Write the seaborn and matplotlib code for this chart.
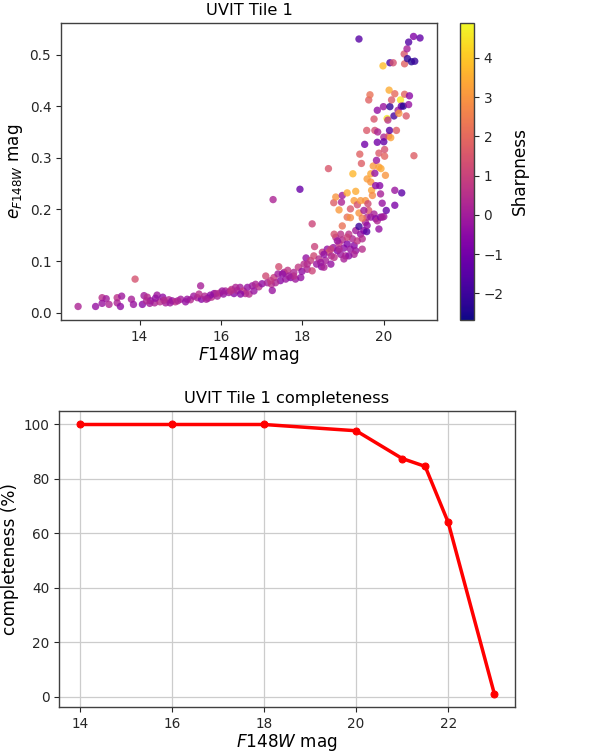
import numpy as np
import pandas as pd
import matplotlib
matplotlib.use("Agg")
import matplotlib.pyplot as plt
import seaborn as sns

# ---------------- data: photometric error vs magnitude (main sequence band) -------------
band_mag = [12.49, 12.92, 13.08, 13.18, 13.08, 13.25, 13.45, 13.56, 13.45, 13.53,
            13.80, 13.85, 13.89, 14.07, 14.11, 14.19, 14.27, 14.37, 14.43, 14.50,
            14.57, 14.64, 14.72, 14.80, 14.88, 15.01, 15.13, 15.25, 15.33, 15.42,
            15.50, 15.52, 15.60, 15.68, 15.77, 15.83, 15.91, 15.97, 16.06, 16.11,
            16.19, 16.26, 16.32, 16.40, 16.47, 16.55, 16.65, 16.69, 16.77, 16.85,
            16.93, 17.01, 17.10, 17.14, 17.24, 17.26, 17.30, 17.40, 17.42, 17.46,
            17.55, 17.59, 17.64, 17.71, 17.79, 17.83, 17.90, 17.99, 18.04, 18.09,
            18.12, 18.20, 18.24, 18.28, 18.30, 18.24, 18.35, 18.41, 18.47, 18.49,
            18.57, 18.61, 18.65, 18.71, 18.76, 18.82, 18.86, 18.90, 18.94, 18.98,
            19.02, 19.06, 19.10, 19.14, 19.18, 19.23, 19.27, 19.31, 19.35, 19.39,
            19.43, 19.47, 19.51, 19.55, 19.58, 19.59, 19.63,
            19.59, 19.68, 19.76, 19.80, 19.84, 19.88, 19.92, 20.00, 19.47, 19.31,
            19.27, 19.14, 19.02, 18.78, 18.70, 18.53, 18.45, 18.12, 17.96, 17.79,
            17.67, 17.51, 17.34, 17.22, 16.81, 16.60, 16.48, 16.36, 16.24, 16.03,
            15.87, 15.74, 15.64, 15.46, 15.17, 14.94, 14.75, 14.60, 14.39, 14.25,
            14.17, 19.10, 18.94, 18.86, 18.78, 18.90, 18.70, 18.53]
band_err = [0.012, 0.012, 0.029, 0.027, 0.018, 0.016, 0.029, 0.032, 0.019, 0.012,
            0.026, 0.016, 0.065, 0.016, 0.033, 0.030, 0.023, 0.019, 0.034, 0.021,
            0.030, 0.019, 0.025, 0.023, 0.021, 0.026, 0.021, 0.025, 0.032, 0.029,
            0.052, 0.026, 0.032, 0.028, 0.030, 0.037, 0.032, 0.038, 0.036, 0.042,
            0.039, 0.045, 0.037, 0.043, 0.049, 0.042, 0.049, 0.036, 0.052, 0.055,
            0.050, 0.056, 0.071, 0.058, 0.055, 0.043, 0.068, 0.075, 0.089, 0.062,
            0.078, 0.065, 0.082, 0.068, 0.078, 0.065, 0.088, 0.080, 0.094, 0.106,
            0.084, 0.101, 0.081, 0.110, 0.128, 0.172, 0.094, 0.104, 0.089, 0.117,
            0.101, 0.123, 0.117, 0.110, 0.126, 0.146, 0.120, 0.134, 0.113, 0.141,
            0.125, 0.110, 0.133, 0.152, 0.123, 0.143, 0.130, 0.159, 0.139, 0.167,
            0.152, 0.143, 0.159, 0.175, 0.157, 0.185, 0.198,
            0.169, 0.185, 0.191, 0.182, 0.178, 0.162, 0.185, 0.186, 0.123, 0.120,
            0.113, 0.110, 0.104, 0.107, 0.094, 0.088, 0.097, 0.094, 0.068, 0.071,
            0.071, 0.075, 0.058, 0.062, 0.042, 0.037, 0.036, 0.049, 0.042, 0.042,
            0.037, 0.034, 0.026, 0.036, 0.026, 0.023, 0.019, 0.024, 0.028, 0.018,
            0.023, 0.146, 0.152, 0.139, 0.152, 0.123, 0.123, 0.113]
band_sharp = [0.2, -0.3, 0.5, 0.0, -0.2, 0.3, 0.6, -0.1, 0.2, -0.4,
              0.1, -0.2, 1.4, -0.5, 0.0, 0.4, -0.3, 0.2, -0.1, 0.5,
              -0.4, 0.1, 0.3, -0.2, 0.6, 0.0, -0.3, 0.4, -0.1, 0.2,
              0.1, -0.5, 0.3, -0.2, 0.5, -0.4, 0.1, 0.7, -0.3, 0.2,
              -0.1, 0.6, -0.5, 0.3, 0.0, 0.8, -0.3, 0.4, -0.1, 0.2,
              0.5, -0.4, 1.2, 0.1, 0.6, -0.2, 0.9, 0.0, 1.3, -0.5,
              0.4, -0.2, 0.7, -0.6, 0.3, -0.1, 0.8, -0.4, 0.5, -0.3,
              0.2, 0.9, 1.1, 1.2, 1.0, 1.1, -0.2, 0.4, -0.5, 0.7,
              0.1, -0.3, 1.5, 0.3, -0.2, 0.5, -0.6, 0.8, -0.1, 0.4,
              -0.4, 0.2, -0.7, 0.6, -0.2, 0.3, -0.5, 0.0, 0.7, -2.0,
              -0.3, 0.4, -0.6, 0.2, -1.5, 0.5, 1.6,
              -0.4, -0.2, 0.1, -0.5, 0.3, -0.3, -0.6, -0.1, 0.5, -0.2,
              0.2, -0.4, 0.1, 0.6, -0.3, 0.2, -0.1, 0.4, -0.3, 0.5,
              0.0, -0.4, 0.3, 0.8, -0.2, 0.4, -0.5, 0.2, 0.6, -0.1,
              0.3, -0.4, 0.1, 0.5, -0.2, 0.2, -0.1, 0.4, -0.3, 0.0,
              0.3, 1.0, 0.6, -0.2, 1.4, 0.3, 0.9, -0.4]

# faint / scattered sources
faint_mag = [18.64, 18.77, 18.82, 18.90, 18.96, 18.98, 18.98, 19.10, 19.10, 19.18,
             19.18, 19.24, 19.27, 19.31, 19.35, 19.39, 19.41, 19.43, 19.45, 19.47,
             19.51, 19.53, 19.55, 19.58, 19.59, 19.61, 19.63, 19.66, 19.68, 19.68,
             19.70, 19.72, 19.74, 19.76, 19.78, 19.78, 19.80, 19.82, 19.84, 19.84,
             19.85, 19.88, 19.88, 19.90, 19.92, 19.93, 19.96, 19.96, 19.98, 19.99,
             20.00, 20.00, 20.02, 20.02, 20.04, 20.06, 20.08, 20.10, 20.12, 20.13,
             20.14, 20.15, 20.15, 20.17, 20.19, 20.23, 20.25, 20.27, 20.27, 20.27,
             20.31, 20.35, 20.37, 20.41, 20.43, 20.44, 20.48, 20.50, 20.51, 20.51,
             20.55, 20.57, 20.58, 20.61, 20.61, 20.63, 20.68, 20.73, 20.74, 20.76,
             20.89, 19.39, 17.94, 17.28]
faint_err = [0.279, 0.213, 0.224, 0.199, 0.214, 0.227, 0.168, 0.232, 0.185, 0.184,
             0.201, 0.269, 0.217, 0.235, 0.209, 0.193, 0.307, 0.217, 0.289, 0.183,
             0.198, 0.326, 0.217, 0.353, 0.259, 0.211, 0.412, 0.422, 0.269, 0.253,
             0.237, 0.227, 0.284, 0.375, 0.353, 0.270, 0.246, 0.295, 0.392, 0.330,
             0.350, 0.309, 0.282, 0.246, 0.230, 0.279, 0.212, 0.185, 0.478, 0.399,
             0.340, 0.331, 0.316, 0.303, 0.266, 0.198, 0.376, 0.373, 0.342, 0.431,
             0.353, 0.484, 0.399, 0.339, 0.412, 0.484, 0.381, 0.424, 0.237, 0.208,
             0.353, 0.392, 0.386, 0.412, 0.400, 0.232, 0.400, 0.501, 0.482, 0.423,
             0.381, 0.511, 0.492, 0.524, 0.403, 0.420, 0.486, 0.535, 0.304, 0.487,
             0.532, 0.530, 0.239, 0.219]
faint_sharp = [1.5, 1.7, 3.0, 3.1, 0.2, -0.1, 2.2, 3.5, 2.2, 2.8,
               1.6, 3.7, 3.2, 3.5, 1.4, 3.0, 1.8, 3.1, 1.7, 2.4,
               0.0, -1.0, 3.0, 1.6, 3.2, 1.2, 1.8, 2.2, 3.4, 3.0,
               3.3, 2.8, 3.1, 1.5, 1.3, -0.3, -0.5, -0.2, -0.4, -1.0,
               0.2, 1.6, 3.2, -0.6, 0.1, 3.4, -0.3, 0.0, 3.8, -0.2,
               0.3, -1.3, 1.4, 1.9, 3.0, -1.2, 4.7, 0.6, 1.5, 3.5,
               -1.5, -1.8, -2.2, 3.3, 1.6, 1.4, -1.8, 2.0, -0.2, -0.8,
               1.7, 0.0, 3.0, 4.6, -1.2, -1.4, -2.3, 1.5, 1.8, 1.9,
               1.6, 0.1, -2.2, -1.6, -0.3, -0.5, -2.4, -0.7, 1.7, -2.1,
               -1.3, -1.5, -1.2, 0.2]

# completeness curve
comp_mag = [14, 16, 18, 20, 21, 21.5, 22, 23]
comp_pct = [100, 100, 100, 97.7, 87.5, 84.6, 64.0, 1.1]

SHARP_MIN, SHARP_MAX = -2.68, 4.89

# ---------------- figure ----------------
plt.rcParams.update({
    "font.family": ["DejaVu Sans"],
    "axes.edgecolor": "0.25",
    "axes.linewidth": 1.0,
    "xtick.color": "0.15",
    "ytick.color": "0.15",
    "mathtext.fontset": "dejavusans",
})

LABEL = 12.2
TICK = 9.8
TITLE = 11.7

fig = plt.figure(figsize=(5.98, 7.52), dpi=100)
ax1 = fig.add_axes([0.102, 0.5745, 0.629, 0.395])
cax = fig.add_axes([0.769, 0.5745, 0.0234, 0.395])
ax2 = fig.add_axes([0.0987, 0.0598, 0.7625, 0.3936])

df = pd.DataFrame({
    "mag": band_mag + faint_mag,
    "err": band_err + faint_err,
    "sharp": band_sharp + faint_sharp,
})
norm = matplotlib.colors.Normalize(vmin=SHARP_MIN, vmax=SHARP_MAX)
sns.scatterplot(data=df, x="mag", y="err", hue="sharp", hue_norm=norm,
                palette="plasma", s=28, alpha=0.8, linewidth=0, legend=False, ax=ax1)
ax1.set_title("UVIT Tile 1", fontsize=TITLE)
ax1.set_xlabel(r"$F148W$ mag", fontsize=LABEL, labelpad=1)
ax1.set_ylabel(r"$e_{F148W}$ mag", fontsize=LABEL, labelpad=3)
ax1.set_xticks([14, 16, 18, 20])
ax1.set_yticks([0.0, 0.1, 0.2, 0.3, 0.4, 0.5])
ax1.tick_params(labelsize=TICK)

sm = matplotlib.cm.ScalarMappable(norm=norm, cmap="plasma")
cb = fig.colorbar(sm, cax=cax)
cb.set_ticks([-2, -1, 0, 1, 2, 3, 4])
cb.ax.tick_params(labelsize=TICK)
cb.set_label("Sharpness", fontsize=LABEL, labelpad=5)
cb.outline.set_edgecolor("0.25")

cdf = pd.DataFrame({"mag": comp_mag, "pct": comp_pct})
sns.lineplot(data=cdf, x="mag", y="pct", color="red", linewidth=2.5,
             marker="o", markersize=5, markeredgecolor="red", ax=ax2)
ax2.set_title("UVIT Tile 1 completeness", fontsize=TITLE)
ax2.set_xlabel(r"$F148W$ mag", fontsize=LABEL, labelpad=1)
ax2.set_ylabel("completeness (%)", fontsize=LABEL, labelpad=3)
ax2.set_xticks([14, 16, 18, 20, 22])
ax2.set_yticks([0, 20, 40, 60, 80, 100])
ax2.tick_params(labelsize=TICK)
ax2.grid(True, color="0.8", linewidth=0.9)
ax2.set_axisbelow(True)

fig.savefig("out.png", dpi=100)
